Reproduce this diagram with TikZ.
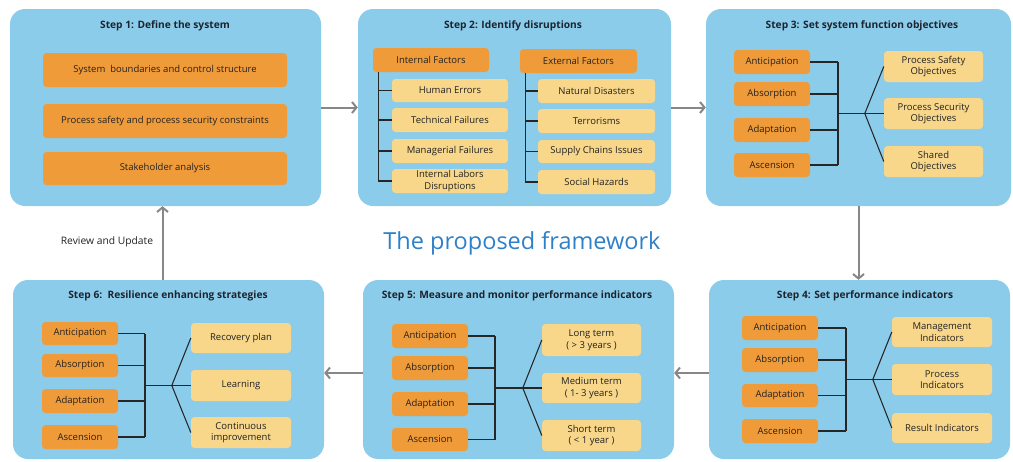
\documentclass[tikz,border=0pt]{standalone}
\usepackage{fontspec}
\setmainfont{Open Sans}
\usetikzlibrary{arrows.meta,calc}
\definecolor{panel}{RGB}{140,204,235}
\definecolor{orangebox}{RGB}{240,155,58}
\definecolor{yellowbox}{RGB}{248,215,138}
\definecolor{ink}{RGB}{34,34,34}
\definecolor{titleink}{RGB}{28,36,46}
\definecolor{arrowgray}{RGB}{135,135,135}
\definecolor{headline}{RGB}{46,128,200}
\tikzset{
  panelbox/.style={fill=panel, rounded corners=15pt, inner sep=0pt},
  panelhead/.style={font=\bfseries\fontsize{10.2}{12}\selectfont, text=titleink, inner sep=0pt},
  obox/.style={fill=orangebox, rounded corners=3.5pt, inner sep=0pt, align=center,
    font=\fontsize{9.5}{11.5}\selectfont, text=ink},
  ybox/.style={fill=yellowbox, rounded corners=3.5pt, inner sep=0pt, align=center,
    font=\fontsize{9.5}{11.5}\selectfont, text=ink},
  tree/.style={draw=black!85, line width=1.05pt},
  flow/.style={draw=arrowgray, line width=2pt, -{Straight Barb[length=4.5pt,width=11pt,line width=2pt]}},
}
% box by its corners: name, x1, y1, x2, y2, style, text
\newcommand\bx[7]{\node[#6, minimum width=#4pt-#2pt, minimum height=#5pt-#3pt]
  (#1) at ({(#2+#4)/2},{(#3+#5)/2}) {#7};}
% four items on a vertical bus at x=#1, joined to three items through a fan at #9
\newcommand\fan[9]{%
  \foreach \k in {#2,#3,#4,#5} {\draw[tree] (\k.east) -- (\k.east -| #1,0);}
  \draw[tree] (#2.east -| #1,0) -- (#5.east -| #1,0);
  \path (#7.west) ++(-19,0) coordinate (#9);
  \draw[tree] (#7.west -| #1,0) -- (#9);
  \draw[tree] (#9) -- (#6.west);
  \draw[tree] (#9) -- (#7.west);
  \draw[tree] (#9) -- (#8.west);
}
\begin{document}
\begin{tikzpicture}[x=1pt, y=-1pt]
\useasboundingbox (0,0) rectangle (1013,461);

% ---- Step 1
\bx{s1}{10}{9}{321}{206}{panelbox}{}
\node[panelhead] (t1) at (165,26) {Step 1: Define the system};
\bx{a11}{43}{53}{287}{87}{obox}{System\ \ boundaries and control structure}
\bx{a12}{43}{104}{287}{138}{obox}{Process safety and process security constraints}
\bx{a13}{43}{152}{287}{185}{obox}{Stakeholder analysis}

% ---- Step 2
\bx{s2}{358}{9}{671}{206}{panelbox}{}
\node[panelhead] (t2) at (513,26) {Step 2: Identify disruptions};
\bx{inf}{373}{48}{489}{72}{obox}{Internal Factors}
\bx{exf}{520}{49}{637}{73}{obox}{External Factors}
\bx{i1}{392}{79}{508}{102}{ybox}{Human Errors}
\bx{i2}{392}{108}{508}{132}{ybox}{Technical Failures}
\bx{i3}{392}{139}{508}{163}{ybox}{Managerial Failures}
\bx{i4}{392}{169}{508}{193}{ybox}{Internal Labors\\Disruptions}
\bx{e1}{538}{79}{655}{103}{ybox}{Natural Disasters}
\bx{e2}{538}{109}{655}{133}{ybox}{Terrorisms}
\bx{e3}{538}{140}{655}{163}{ybox}{Supply Chains Issues}
\bx{e4}{538}{170}{655}{194}{ybox}{Social Hazards}
\foreach \k in {i1,i2,i3,i4} {\draw[tree] ([xshift=6pt]inf.south west) |- (\k.west);}
\foreach \k in {e1,e2,e3,e4} {\draw[tree] ([xshift=6pt]exf.south west) |- (\k.west);}

% ---- Step 3
\bx{s3}{706}{9}{1011}{206}{panelbox}{}
\node[panelhead] (t3) at (862,26) {Step 3: Set system function objectives};
\bx{o31}{734}{50}{810}{74}{obox}{Anticipation}
\bx{o32}{734}{82}{810}{106}{obox}{Absorption}
\bx{o33}{734}{118}{810}{142}{obox}{Adaptation}
\bx{o34}{734}{153}{810}{177}{obox}{Ascension}
\bx{y31}{884}{51}{983}{82}{ybox}{Process Safety\\Objectives}
\bx{y32}{884}{98}{983}{129}{ybox}{Process Security\\Objectives}
\bx{y33}{884}{146}{983}{177}{ybox}{Shared\\Objectives}
\fan{838}{o31}{o32}{o33}{o34}{y31}{y32}{y33}{j3}

% ---- Step 4
\bx{s4}{709}{280}{1010}{459}{panelbox}{}
\node[panelhead] (t4) at (865,296) {Step 4: Set performance indicators};
\bx{o41}{742}{316}{818}{340}{obox}{Anticipation}
\bx{o42}{742}{348}{818}{372}{obox}{Absorption}
\bx{o43}{742}{384}{818}{407}{obox}{Adaptation}
\bx{o44}{742}{419}{818}{443}{obox}{Ascension}
\bx{y41}{892}{317}{992}{347}{ybox}{Management\\Indicators}
\bx{y42}{892}{364}{992}{395}{ybox}{Process\\Indicators}
\bx{y43}{892}{413}{992}{443}{ybox}{Result Indicators}
\fan{846}{o41}{o42}{o43}{o44}{y41}{y42}{y43}{j4}

% ---- Step 5
\bx{s5}{363}{280}{674}{459}{panelbox}{}
\node[panelhead] (t5) at (517,296) {Step 5: Measure and monitor performance indicators};
\bx{o51}{392}{324}{468}{348}{obox}{Anticipation}
\bx{o52}{392}{356}{468}{380}{obox}{Absorption}
\bx{o53}{392}{392}{468}{416}{obox}{Adaptation}
\bx{o54}{392}{428}{468}{451}{obox}{Ascension}
\bx{y51}{542}{324}{641}{356}{ybox}{Long term\\( > 3 years )}
\bx{y52}{542}{373}{641}{403}{ybox}{Medium term\\( 1- 3 years )}
\bx{y53}{542}{420}{641}{451}{ybox}{Short term\\( < 1 year )}
\fan{495}{o51}{o52}{o53}{o54}{y51}{y52}{y53}{j5}

% ---- Step 6
\bx{s6}{13}{280}{324}{459}{panelbox}{}
\node[panelhead] (t6) at (168,296) {Step 6:\ \ Resilience enhancing strategies};
\bx{o61}{42}{322}{118}{345}{obox}{Anticipation}
\bx{o62}{42}{354}{118}{377}{obox}{Absorption}
\bx{o63}{42}{389}{118}{413}{obox}{Adaptation}
\bx{o64}{42}{425}{118}{449}{obox}{Ascension}
\bx{y61}{191}{323}{291}{353}{ybox}{Recovery plan}
\bx{y62}{191}{370}{291}{401}{ybox}{Learning}
\bx{y63}{191}{417}{291}{448}{ybox}{Continuous\\improvement}
\fan{145}{o61}{o62}{o63}{o64}{y61}{y62}{y63}{j6}

% ---- flow between the steps
\draw[flow] (s1.east) -- (s2.west);
\draw[flow] (s2.east) -- (s3.west);
\draw[flow] (s3.south) -- (s3.south |- s4.north);
\draw[flow] ([yshift=-3.5pt]s4.west) -- ([yshift=-3.5pt]s4.west -| s5.east);
\draw[flow] ([yshift=-3.5pt]s5.west) -- ([yshift=-3.5pt]s5.west -| s6.east);
\draw[flow] ([xshift=-6pt]s6.north) -- ([xshift=-6pt]s6.north |- s1.south);

\node[font=\fontsize{10.3}{12}\selectfont, text=ink, inner sep=0pt] (lbl) at (107,242) {Review and Update};
\node[font=\fontsize{23.5}{27}\selectfont, text=headline, inner sep=0pt] (head) at (522,243) {The proposed framework};
\end{tikzpicture}
\end{document}
